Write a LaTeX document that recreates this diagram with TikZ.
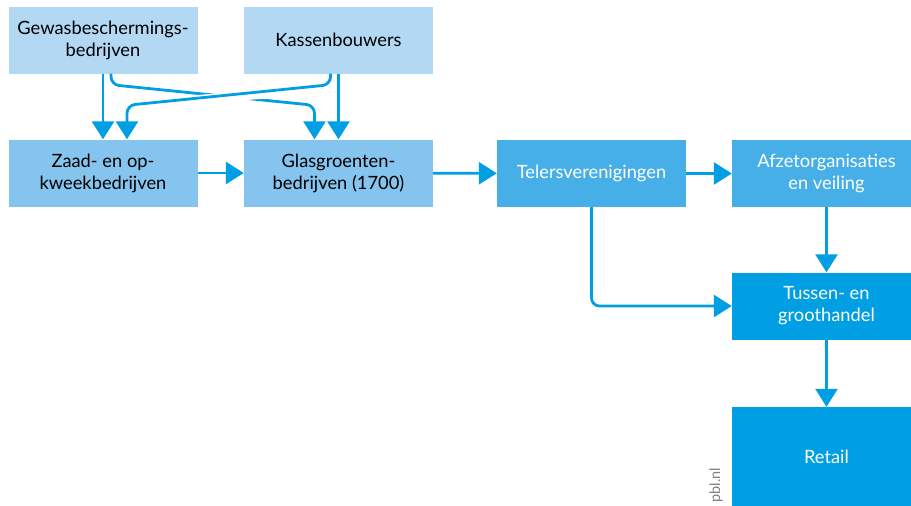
\documentclass[tikz,border=0pt]{standalone}
\usepackage{fontspec}
\setmainfont{Lato}
\usetikzlibrary{arrows.meta,calc}
\definecolor{c1}{HTML}{B3D8F4}
\definecolor{c2}{HTML}{85C4EF}
\definecolor{c3}{HTML}{47AFE7}
\definecolor{c4}{HTML}{009FE3}
\definecolor{arrc}{HTML}{009FE3}
\begin{document}
\begin{tikzpicture}[x=1pt,y=-1pt,
  box/.style={rectangle, minimum width=189pt, minimum height=67pt, inner sep=0pt, align=center, font=\fontsize{18.3}{22}\selectfont},
  lbox/.style={box, fill=c1, text=black},
  mbox/.style={box, fill=c2, text=black},
  dbox/.style={box, fill=c3, text=white},
  xbox/.style={box, fill=c4, text=white},
  arr/.style={draw=arrc, line width=2.8pt, rounded corners=8pt, -{Triangle[width=22pt,length=18pt]}}
]
\clip (0,0) rectangle (911,506);
\useasboundingbox (0,0) rectangle (911,506);
\node[lbox] (gew) at (103,40) {Gewasbeschermings-\\bedrijven};
\node[lbox] (kas) at (338.5,40) {Kassenbouwers};
\node[mbox] (zaad) at (103,173) {Zaad- en op-\\kweekbedrijven};
\node[mbox] (glas) at (338.5,173) {Glasgroenten-\\bedrijven (1700)};
\node[dbox] (tel) at (591.5,173.5) {Telersverenigingen};
\node[dbox] (afz) at (826.5,173.5) {Afzetorganisaties\\en veiling};
\node[xbox] (tus) at (826.5,306) {Tussen- en\\groothandel};
\node[xbox, minimum height=99pt] (ret) at (826.5,456.5) {Retail};
\node[rotate=90, text=gray, font=\fontsize{14.5}{16}\selectfont, anchor=center] (pbl) at (716,485) {pbl.nl};
% crossing arrows
\draw[arr] ([xshift=8pt]gew.south) -- ++(0,11) -- ($([xshift=-24pt]glas.north)+(0,-34)$) -- ([xshift=-24pt]glas.north);
\draw[white, line width=9pt, rounded corners=8pt] ([xshift=-8pt,yshift=-2pt]kas.south) -- ++(0,13) -- ($([xshift=24pt]zaad.north)+(0,-34)$) -- ($([xshift=24pt]zaad.north)+(0,-25)$);
\draw[arr] ([xshift=-8pt]kas.south) -- ++(0,11) -- ($([xshift=24pt]zaad.north)+(0,-34)$) -- ([xshift=24pt]zaad.north);
\draw[arr] (gew) -- (zaad);
\draw[arr] (kas) -- (glas);
\draw[arr] (zaad) -- (glas);
\draw[arr] (glas) -- (tel);
\draw[arr] (tel) -- (afz);
\draw[arr] (afz) -- (tus);
\draw[arr] (tel.south) |- (tus.west);
\draw[arr] (tus) -- (ret);
\end{tikzpicture}
\end{document}
